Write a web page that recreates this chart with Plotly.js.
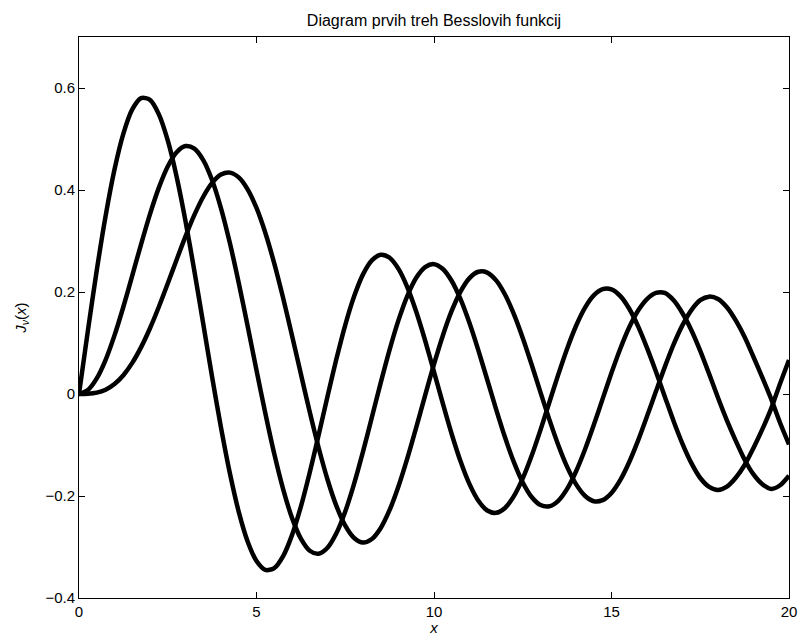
<!DOCTYPE html>
<html>
<head>
<meta charset="utf-8">
<script src="https://cdn.plot.ly/plotly-3.0.1.min.js"></script>
<style>html,body{margin:0;padding:0;background:#fff;}#chart{width:800px;height:636px;}</style>
</head>
<body>
<div id="chart"></div>
<script>
const xValues = [0,0.25,0.5,0.75,1,1.25,1.5,1.75,2,2.25,2.5,2.75,3,3.25,3.5,3.75,4,4.25,4.5,4.75,5,5.25,5.5,5.75,6,6.25,6.5,6.75,7,7.25,7.5,7.75,8,8.25,8.5,8.75,9,9.25,9.5,9.75,10,10.25,10.5,10.75,11,11.25,11.5,11.75,12,12.25,12.5,12.75,13,13.25,13.5,13.75,14,14.25,14.5,14.75,15,15.25,15.5,15.75,16,16.25,16.5,16.75,17,17.25,17.5,17.75,18,18.25,18.5,18.75,19,19.25,19.5,19.75,20];
const j1 = [0,0.1240,0.2423,0.3493,0.4401,0.5106,0.5579,0.5801,0.5767,0.5483,0.4971,0.4260,0.3391,0.2411,0.1374,0.0333,-0.0660,-0.1555,-0.2311,-0.2892,-0.3276,-0.3450,-0.3414,-0.3179,-0.2767,-0.2207,-0.1538,-0.0803,-0.0047,0.0685,0.1352,0.1915,0.2346,0.2621,0.2731,0.2672,0.2453,0.2091,0.1613,0.1049,0.0435,-0.0190,-0.0789,-0.1325,-0.1768,-0.2093,-0.2284,-0.2330,-0.2234,-0.2003,-0.1655,-0.1212,-0.0703,-0.0162,0.0380,0.0889,0.1334,0.1689,0.1934,0.2056,0.2051,0.1919,0.1672,0.1326,0.0904,0.0440,-0.0047,-0.0533,-0.0977,-0.1356,-0.1647,-0.1821,-0.1880,-0.1815,-0.1641,-0.1392,-0.1057,-0.0689,-0.0281,0.0207,0.0668];
const j2 = [0,0.0078,0.0306,0.0671,0.1149,0.1711,0.2321,0.2940,0.3528,0.4047,0.4461,0.4739,0.4861,0.4811,0.4586,0.4191,0.3641,0.2959,0.2178,0.1333,0.0466,-0.0383,-0.1173,-0.1865,-0.2429,-0.2837,-0.3074,-0.3132,-0.3014,-0.2731,-0.2303,-0.1758,-0.1130,-0.0457,0.0223,0.0870,0.1448,0.1926,0.2279,0.2488,0.2546,0.2452,0.2216,0.1854,0.1390,0.0854,0.0279,-0.0300,-0.0849,-0.1336,-0.1734,-0.2019,-0.2177,-0.2202,-0.2094,-0.1861,-0.1520,-0.1094,-0.0609,-0.0096,0.0415,0.0893,0.1308,0.1637,0.1862,0.1982,0.1982,0.1838,0.1584,0.1251,0.0846,0.0394,-0.0075,-0.0518,-0.0919,-0.1289,-0.1577,-0.1769,-0.1861,-0.1789,-0.1603];
const j3 = [0,0.0004,0.0026,0.0085,0.0196,0.0369,0.0610,0.0919,0.1289,0.1711,0.2166,0.2634,0.3091,0.3511,0.3868,0.4139,0.4302,0.4341,0.4247,0.4014,0.3648,0.3157,0.2561,0.1881,0.1148,0.0391,-0.0354,-0.1053,-0.1676,-0.2193,-0.2581,-0.2823,-0.2911,-0.2843,-0.2626,-0.2274,-0.1809,-0.1258,-0.0653,-0.0027,0.0584,0.1148,0.1633,0.2014,0.2273,0.2397,0.2381,0.2228,0.1951,0.1567,0.1100,0.0578,0.0033,-0.0503,-0.1000,-0.1430,-0.1768,-0.1995,-0.2102,-0.2082,-0.1940,-0.1685,-0.1334,-0.0910,-0.0438,0.0048,0.0527,0.0972,0.1350,0.1646,0.1840,0.1909,0.1863,0.1700,0.1442,0.1117,0.0725,0.0322,-0.0101,-0.0569,-0.0989];
const xTicks = [0,5,10,15,20];
const yTicks = [-0.4,-0.2,0,0.2,0.4,0.6];
const yTickText = ['\u22120.4','\u22120.2','0','0.2','0.4','0.6'];

const font = {family: 'Liberation Sans, Arial, sans-serif', size: 15, color: '#000'};
const titleFont = {family: 'Liberation Sans, Arial, sans-serif', size: 16, color: '#000'};
const mk = (y) => ({x: xValues, y: y, type: 'scatter', mode: 'lines',
  line: {color: '#000', width: 4.5, shape: 'spline', smoothing: 0.8}, hoverinfo: 'skip'});

const layout = {
  width: 800, height: 636,
  margin: {l: 79, r: 11, t: 37, b: 38},
  paper_bgcolor: '#fff', plot_bgcolor: '#fff',
  showlegend: false,
  font: font,
  title: {text: 'Diagram prvih treh Besslovih funkcij', x: 0.5425, xanchor: 'center', y: 0.968, yanchor: 'middle', font: titleFont},
  xaxis: {range: [0, 20], tickvals: xTicks, ticktext: xTicks.map(String), ticks: 'inside', ticklen: 6, tickcolor: '#000',
    showline: true, linecolor: '#000', linewidth: 1, mirror: 'ticks', showgrid: false, zeroline: false,
    tickfont: font, title: {text: '<i>x</i>', font: font, standoff: 0}},
  yaxis: {range: [-0.4, 0.7], tickvals: yTicks, ticktext: yTickText, ticks: 'inside', ticklen: 6, tickcolor: '#000',
    showline: true, linecolor: '#000', linewidth: 1, mirror: 'ticks', showgrid: false, zeroline: false,
    tickfont: font, title: {text: '<i>J</i><sub><i>\u03bd</i></sub>(<i>x</i>)', font: font, standoff: 15}}
};
Plotly.newPlot('chart', [mk(j1), mk(j2), mk(j3)], layout, {displayModeBar: false, staticPlot: true});
</script>
</body>
</html>
